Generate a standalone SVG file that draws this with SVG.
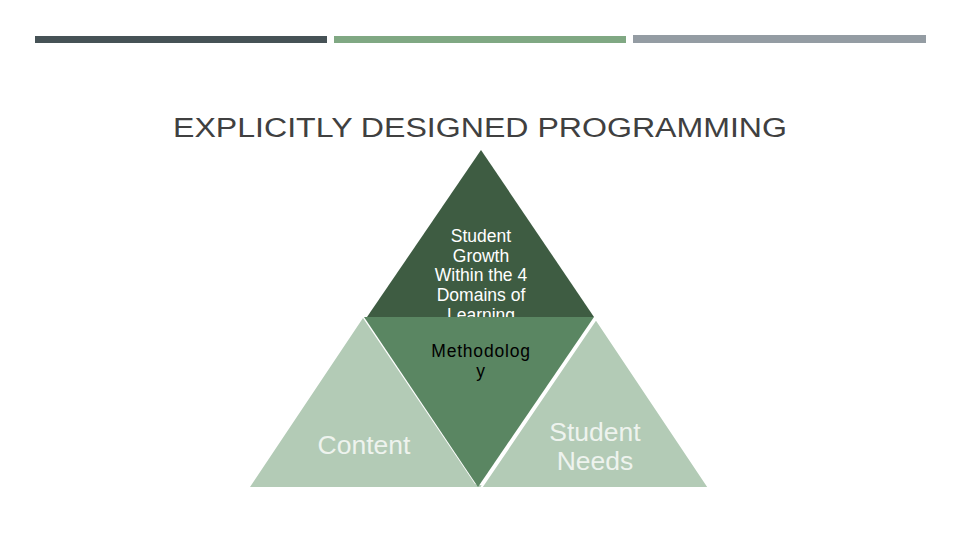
<svg xmlns="http://www.w3.org/2000/svg" width="960" height="540" viewBox="0 0 960 540">
<style>
.t{font-family:"Liberation Sans",Arial,sans-serif;text-anchor:middle}
.small{font-size:17.5px}
.big{font-size:26.5px;fill:#eef3ee}
</style>
<rect width="960" height="540" fill="#ffffff"/>
<rect x="35" y="36" width="292" height="7" fill="#465256"/>
<rect x="334" y="36" width="292" height="7" fill="#80a883"/>
<rect x="633" y="35" width="293" height="8" fill="#949ca3"/>
<text x="480" y="137" class="t" font-size="27" fill="#404040" textLength="614" lengthAdjust="spacingAndGlyphs">EXPLICITLY DESIGNED PROGRAMMING</text>
<g id="top">
<polygon points="481,150 594,317 367,317" fill="#3e5c42"/>
<text class="t small" fill="#ffffff"><tspan x="481" y="242">Student</tspan><tspan x="481" y="262">Growth</tspan><tspan x="481" y="281">Within the 4</tspan><tspan x="481" y="301">Domains of</tspan><tspan x="481" y="321">Learning</tspan></text>
</g>
<g id="content">
<polygon points="363,318 475,484 490,487 250,487" fill="#b3cbb6"/>
<text class="t big" x="364" y="454">Content</text>
</g>
<g id="methodology">
<polygon points="364,317 594,317 478,487" fill="#5a8662"/>
<text class="t small" fill="#000000" letter-spacing="0.8"><tspan x="481" y="357">Methodolog</tspan><tspan x="481" y="377">y</tspan></text>
</g>
<g id="needs">
<polygon points="596,319 709,488 481,488" fill="#b3cbb6" stroke="#ffffff" stroke-width="2"/>
<text class="t big"><tspan x="595" y="441">Student</tspan><tspan x="595" y="470">Needs</tspan></text>
</g>
<g id="connectors"/>
</svg>
